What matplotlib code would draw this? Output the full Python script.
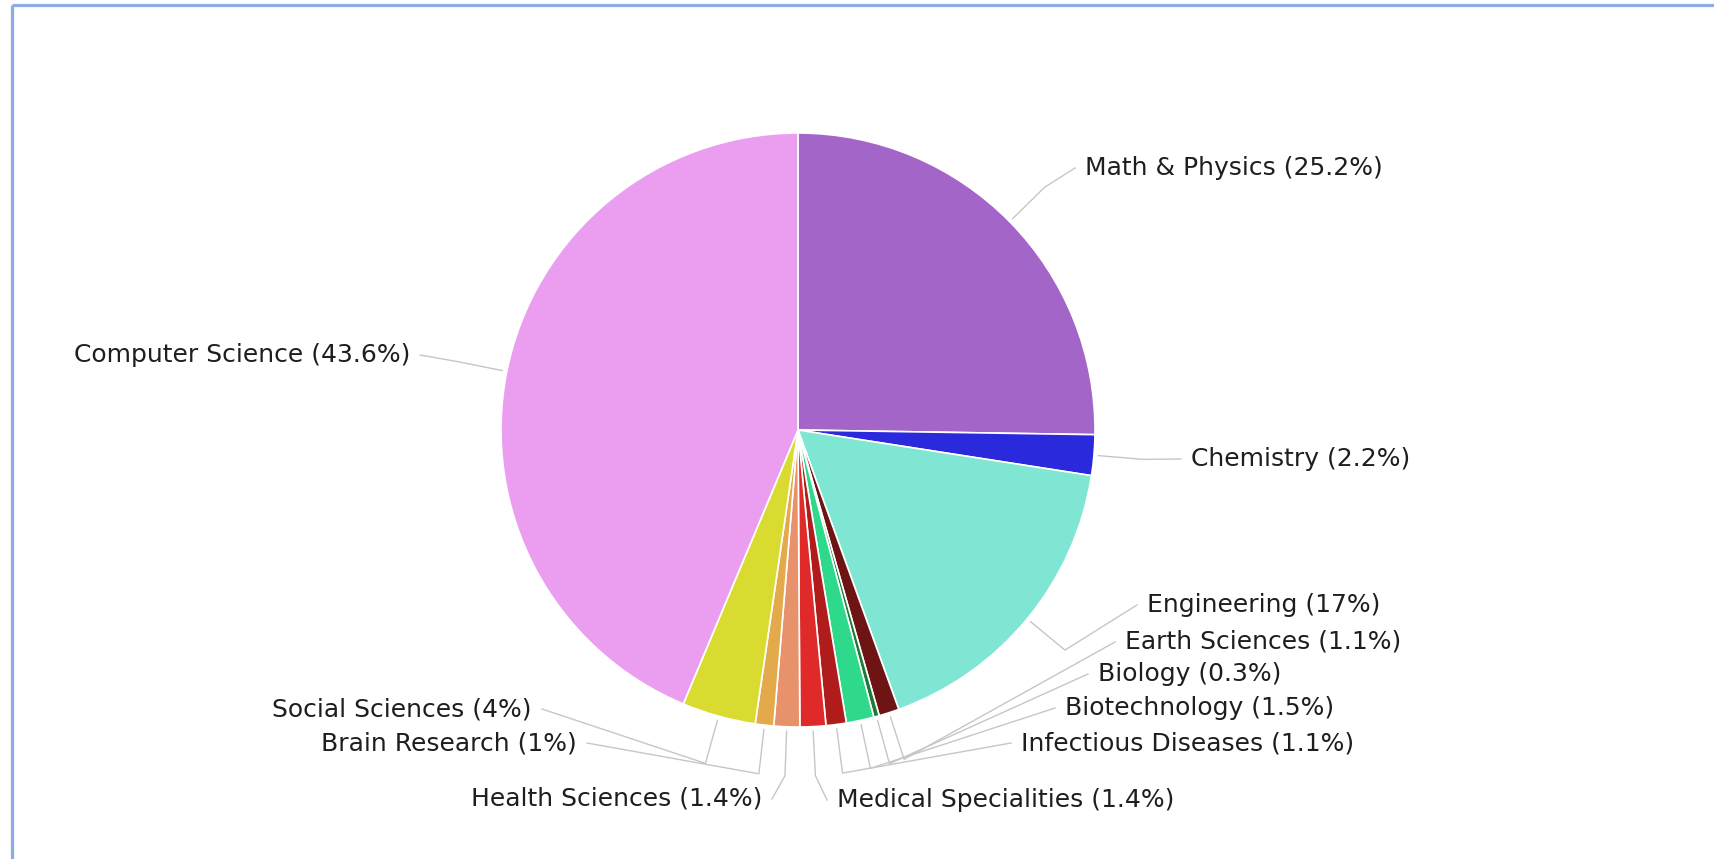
import numpy as np
import matplotlib.pyplot as plt

plt.rcParams.update({
    "font.family": "DejaVu Sans",
    "font.size": 18,
})

#%% Data (clockwise from 12 o'clock)
categories = ["Math & Physics", "Chemistry", "Engineering", "Earth Sciences", "Biology",
              "Biotechnology", "Infectious Diseases", "Medical Specialities",
              "Health Sciences", "Brain Research", "Social Sciences", "Computer Science"]
shares = [25.2, 2.2, 17, 1.1, 0.3, 1.5, 1.1, 1.4, 1.4, 1, 4, 43.6]
colors = ["#a366c8", "#2a2adc", "#80e6d4", "#6e1414", "#1f7a3a", "#2ed98c",
          "#b01c1c", "#e02a2a", "#e8926c", "#e3a94a", "#dadb30", "#eb9def"]

#%% Layout (pixels, y measured from the top)
W, H = 1715, 859
cx, cy, R = 798, 430, 297

# end point of each leader line, and which side the text sits on
anchors = [(1075, 168), (1181, 459), (1137, 605), (1115, 642), (1088, 674),
           (1055, 708), (1011, 743), (827, 800), (772, 799), (587, 743),
           (542, 709), (420, 355)]
sides = ["r", "r", "r", "r", "r", "r", "r", "r", "l", "l", "l", "l"]

fig = plt.figure(figsize=(W / 100, H / 100), dpi=100)
ax = fig.add_axes([0, 0, 1, 1])

wedges, _ = ax.pie(shares, colors=colors, startangle=90, counterclock=False,
                   center=(cx, H - cy), radius=R,
                   wedgeprops=dict(edgecolor="white", linewidth=1.2))

line_col = "#c6c6c6"
for w, name, val, (axp, ayp), side in zip(wedges, categories, shares, anchors, sides):
    mid = np.deg2rad((w.theta1 + w.theta2) / 2)
    d = np.array([np.cos(mid), np.sin(mid)])
    c = np.array([cx, H - cy])
    p0 = c + 1.015 * R * d
    p1 = c + 1.165 * R * d
    p2 = np.array([axp, H - ayp])
    ax.plot([p0[0], p1[0], p2[0]], [p0[1], p1[1], p2[1]], color=line_col, lw=1.0,
            solid_joinstyle="round", zorder=1)
    label = f"{name} ({val:g}%)"
    if side == "r":
        ax.text(axp + 10, H - ayp, label, ha="left", va="center", color="#1e1e1e")
    else:
        ax.text(axp - 10, H - ayp, label, ha="right", va="center", color="#1e1e1e")

# thin blue frame along the top and left edges
frame_col = "#8cade4"
ax.plot([12, W], [H - 5, H - 5], color=frame_col, lw=2.3, solid_capstyle="butt")
ax.plot([12, 12], [H - 5, 0], color=frame_col, lw=2.3, solid_capstyle="butt")

ax.set_xlim(0, W)
ax.set_ylim(0, H)
ax.set_aspect("equal")
ax.axis("off")

fig.savefig("out.png", dpi=100, facecolor="white")
